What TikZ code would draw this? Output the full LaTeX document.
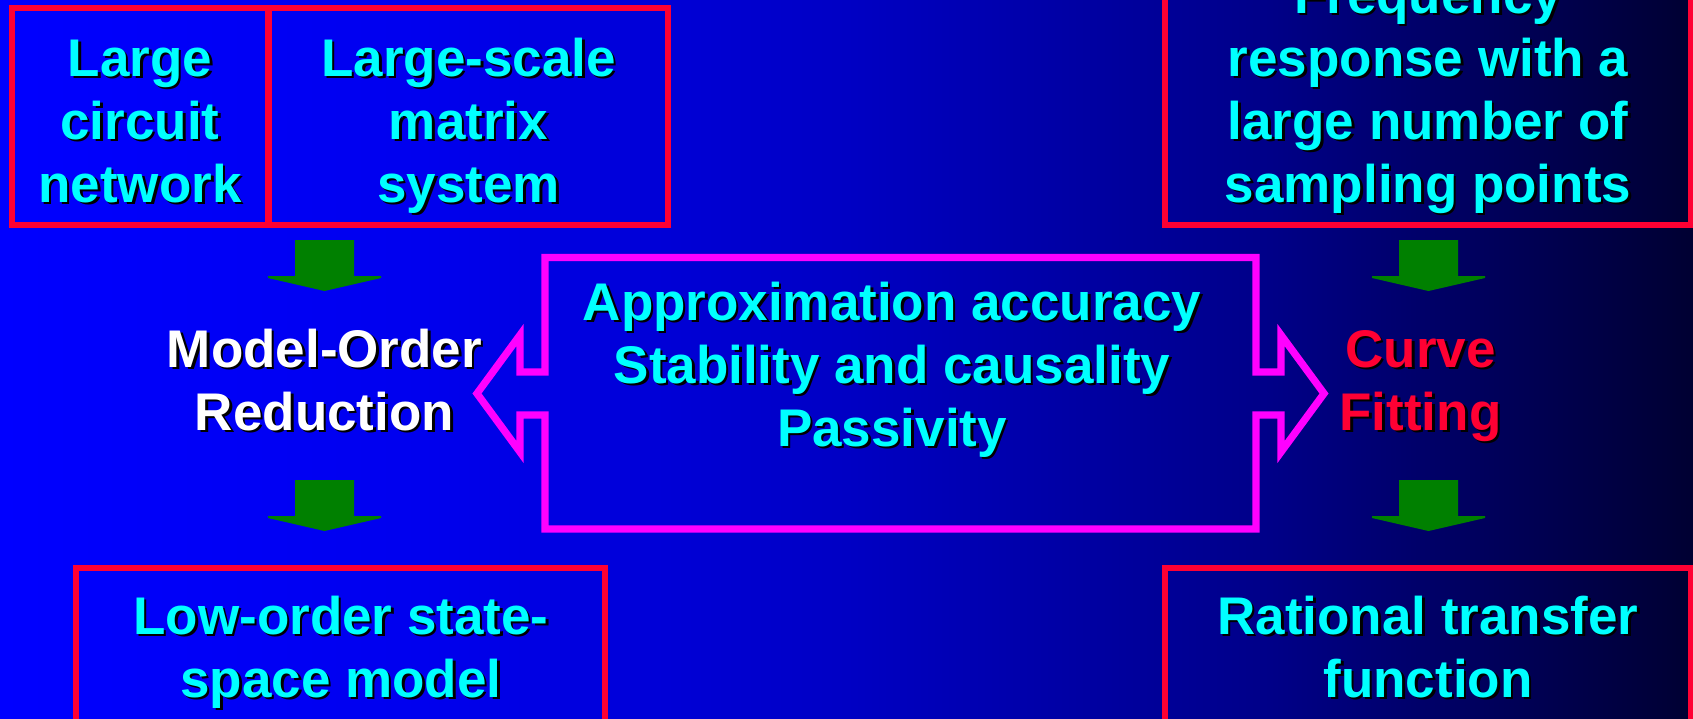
\documentclass[tikz,border=0pt]{standalone}
\usepackage{fontspec}
\setmainfont{Liberation Sans}
\usetikzlibrary{calc}

\definecolor{bgA}{RGB}{0,0,255}
\definecolor{bgB}{RGB}{0,0,238}
\definecolor{bgC}{RGB}{0,0,196}
\definecolor{bgD}{RGB}{0,0,136}
\definecolor{bgE}{RGB}{0,0,50}
\definecolor{framered}{RGB}{255,0,51}
\definecolor{arrowgreen}{RGB}{0,128,0}
\definecolor{outlinemagenta}{RGB}{255,0,255}
\definecolor{labelcyan}{RGB}{0,255,255}

\pgfdeclarehorizontalshading{slidebg}{100bp}{%
  color(0bp)=(bgA); color(25bp)=(bgA); color(37.5bp)=(bgB);
  color(50bp)=(bgC); color(62.5bp)=(bgD); color(75bp)=(bgE);
  color(100bp)=(bgE)}

\tikzset{
  redbox/.style={draw=framered, line width=6.5pt, rectangle, inner sep=0pt},
  % anchored at the baseline of the last line
  label text/.style={font=\bfseries\fontsize{53}{63}\selectfont,
    align=center, anchor=base, inner sep=0pt},
  blockdown/.pic={
    \fill[arrowgreen] (-29.5,0) -- (29.5,0) -- (29.5,36) -- (56.5,36)
      -- (56.5,38) -- (0,51) -- (-56.5,38) -- (-56.5,36) -- (-29.5,36) -- cycle;
  },
  twoway/.style={draw=outlinemagenta, line width=7.3pt, miter limit=10,
    line join=miter}
}

% text with a black drop shadow below and to the right
\newcommand\shadowlabel[4]{%
  \node[label text, text=black] (#1-shadow) at ($(#2)+(2.5,2.5)$) {#4};
  \node[label text, text=#3] (#1) at (#2) {#4};}

\begin{document}
\begin{tikzpicture}[x=1pt, y=-1pt]
  \useasboundingbox (0,0) rectangle (1693,718);
  \clip (0,0) rectangle (1693,718);
  \fill[shading=slidebg] (0,0) rectangle (1693,718);

  % framed boxes
  \node[redbox, minimum width=256.5pt, minimum height=217pt] (circuit) at (140.25,116.5) {};
  \node[redbox, minimum width=399.5pt, minimum height=217pt] (matrix) at (468.25,116.5) {};
  \node[redbox, minimum width=526pt, minimum height=285pt] (freq) at (1428,82.5) {};
  \node[redbox, minimum width=529pt, minimum height=232pt] (statespace) at (340.5,684) {};
  \node[redbox, minimum width=526pt, minimum height=232pt] (rational) at (1428,684) {};

  % box labels
  \shadowlabel{circuit-txt}{140,202}{labelcyan}{Large\\circuit\\network}
  \shadowlabel{matrix-txt}{468.5,202}{labelcyan}{Large-scale\\matrix\\system}
  \shadowlabel{freq-txt}{1428,202}{labelcyan}{Frequency\\response with a\\large number of\\sampling points}
  \shadowlabel{statespace-txt}{341,697}{labelcyan}{Low-order state-\\space model}
  \shadowlabel{rational-txt}{1428,697}{labelcyan}{Rational transfer\\function}

  % process steps
  \shadowlabel{mor}{324.5,430}{white}{Model-Order\\Reduction}
  \shadowlabel{fit}{1420.5,430}{framered}{Curve\\Fitting}

  % green block arrows
  \pic at (324.5,240) {blockdown};
  \pic at (324.5,480) {blockdown};
  \pic at (1428.5,240) {blockdown};
  \pic at (1428.5,480) {blockdown};

  % double-headed outline arrow with the shared requirements
  \draw[twoway] (477,393.5) -- (520,335) -- (520,372) -- (545,372)
    -- (545,257.5) -- (1256,257.5) -- (1256,372) -- (1281,372)
    -- (1281,335) -- (1324,393.5) -- (1281,452) -- (1281,415)
    -- (1256,415) -- (1256,529) -- (545,529) -- (545,415)
    -- (520,415) -- (520,452) -- cycle;
  \shadowlabel{reqs}{892,446}{labelcyan}{Approximation accuracy\\Stability and causality\\Passivity}
\end{tikzpicture}
\end{document}
